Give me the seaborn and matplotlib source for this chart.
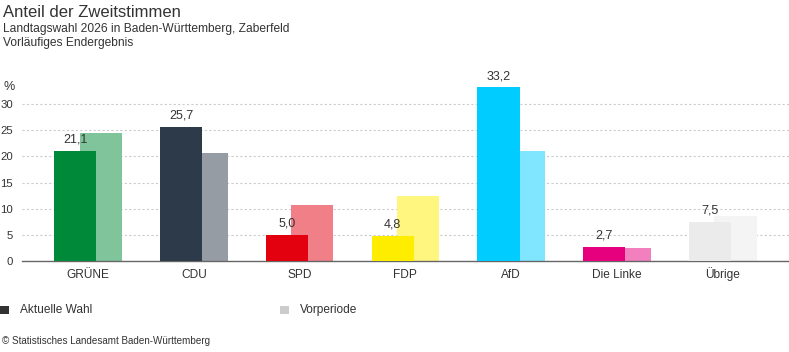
import numpy as np
import pandas as pd
import matplotlib.pyplot as plt
from matplotlib.patches import Rectangle
import seaborn as sns

# Daten
parteien = ["GRÜNE", "CDU", "SPD", "FDP", "AfD", "Die Linke", "Übrige"]
aktuell = [21.1, 25.7, 5.0, 4.8, 33.2, 2.7, 7.5]
vorperiode = [24.4, 20.7, 10.7, 12.4, 21.1, 2.5, 8.6]
farben_akt = ["#008939", "#2c3a4a", "#e3000f", "#ffed00", "#00ccff", "#e6007e", "#ebebeb"]
farben_vor = ["#80c49c", "#959ca4", "#f17f87", "#fff680", "#80e6ff", "#f280bf", "#f4f4f4"]
y_ticks = [0, 5, 10, 15, 20, 25, 30]

sns.set_style("white")
plt.rcParams['font.family'] = ['Liberation Sans', 'DejaVu Sans']
textfarbe = "#333333"

W, H = 789, 352
fig = plt.figure(figsize=(W / 100, H / 100), dpi=100)
ax = fig.add_axes([22 / W, 1 - 261 / H, 1 - 22 / W, 183 / H])

pos = np.arange(len(parteien))
df_vor = pd.DataFrame({"x": pos + 0.12, "wert": vorperiode, "partei": parteien})
df_akt = pd.DataFrame({"x": pos - 0.12, "wert": aktuell, "partei": parteien})

sns.barplot(data=df_vor, x="x", y="wert", hue="partei",
            palette=dict(zip(parteien, farben_vor)), native_scale=True,
            width=0.4, dodge=False, saturation=1, linewidth=0,
            legend=False, ax=ax, zorder=2)
sns.barplot(data=df_akt, x="x", y="wert", hue="partei",
            palette=dict(zip(parteien, farben_akt)), native_scale=True,
            width=0.4, dodge=False, saturation=1, linewidth=0,
            legend=False, ax=ax, zorder=3)

# Werte über den aktuellen Balken
for xp, v in zip(df_akt["x"], aktuell):
    ax.annotate(f"{v:.1f}".replace(".", ","), (xp, v), xytext=(0, 5),
                textcoords="offset pixels", ha="center", va="bottom",
                fontsize=9, color=textfarbe, zorder=4)

ax.set_xlim(-0.624, 6.626)
ax.set_ylim(0, 35)
ax.set_xticks(pos, parteien)
ax.set_yticks(y_ticks)
ax.set_xlabel("")
ax.set_ylabel("")
ax.tick_params(axis="x", length=0, pad=12.3, labelsize=8.6, labelcolor=textfarbe)
ax.tick_params(axis="y", length=0, pad=6.5, labelsize=8.2, labelcolor=textfarbe)
for lab in ax.get_xticklabels():
    lab.set_verticalalignment("baseline")
ax.yaxis.grid(True, linestyle=(0, (2, 2)), color="#cccccc", linewidth=0.8, zorder=0)
ax.set_axisbelow(True)
for s in ["top", "right", "left"]:
    ax.spines[s].set_visible(False)
ax.spines["bottom"].set_color("#666666")
ax.spines["bottom"].set_linewidth(1)


def fy(px):
    return 1 - px / H


# Titel
fig.text(3 / W, fy(17), "Anteil der Zweitstimmen", fontsize=12, color=textfarbe, va="baseline")
fig.text(3 / W, fy(32), "Landtagswahl 2026 in Baden-Württemberg, Zaberfeld", fontsize=8.65,
         color=textfarbe, va="baseline")
fig.text(3 / W, fy(46), "Vorläufiges Endergebnis", fontsize=8.65, color=textfarbe, va="baseline")
fig.text(3 / W, fy(90), "%", fontsize=9, color=textfarbe, va="baseline")

# Legende
fig.add_artist(Rectangle((0, fy(314)), 9 / W, 8 / H, transform=fig.transFigure,
                         color="#333333", lw=0))
fig.text(20 / W, fy(310), "Aktuelle Wahl", fontsize=8.6, color=textfarbe, va="center")
fig.add_artist(Rectangle((280 / W, fy(314)), 9 / W, 8 / H, transform=fig.transFigure,
                         color="#cccccc", lw=0))
fig.text(300 / W, fy(310), "Vorperiode", fontsize=8.6, color=textfarbe, va="center")

fig.text(2 / W, fy(341), "© Statistisches Landesamt Baden-Württemberg", fontsize=7.15,
         color=textfarbe, va="center")

fig.savefig("out.png", dpi=100)
